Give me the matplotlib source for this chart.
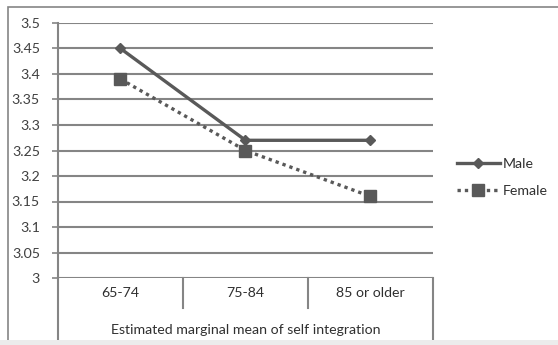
import numpy as np
import matplotlib
matplotlib.use('agg')
import matplotlib.pyplot as plt
from matplotlib.patches import Rectangle
import matplotlib.transforms as mtransforms

# DATA
categories = ['65-74', '75-84', '85 or older']
male = [3.45, 3.27, 3.27]
female = [3.39, 3.25, 3.16]
yticks = [3.0, 3.05, 3.1, 3.15, 3.2, 3.25, 3.3, 3.35, 3.4, 3.45, 3.5]
ytick_labels = ['3', '3.05', '3.1', '3.15', '3.2', '3.25', '3.3', '3.35', '3.4', '3.45', '3.5']
xlabel = 'Estimated marginal mean of self integration'

plt.rcParams['font.family'] = ['Lato', 'DejaVu Sans']
fontsize = 10.2
gridcol = '#858585'
linecol = '#595959'

W, H = 558, 345
fig = plt.figure(figsize=(W / 100, H / 100), dpi=100)
fig.patch.set_facecolor('white')

# outer chart border and bottom strip
fig.patches.append(Rectangle((8 / W, -0.1), 1.2, 1 - 7 / H + 0.1, transform=fig.transFigure,
                             fill=False, edgecolor=gridcol, lw=1.2))
fig.patches.append(Rectangle((0, 0), 1, 5 / H, transform=fig.transFigure,
                             facecolor='#ececec', edgecolor='none', zorder=5))

ax = fig.add_axes([58 / W, 1 - 278 / H, (433 - 58) / W, (278 - 23) / H])
x = np.arange(len(categories)) + 0.5

ax.set_xlim(0, len(categories))
ax.set_ylim(3.0, 3.5)
ax.set_yticks(yticks)
ax.set_yticklabels(ytick_labels, fontsize=fontsize, color='#404040')
ax.set_xticks([])
ax.tick_params(axis='y', length=4, width=1.2, color=gridcol, pad=9)
for s in ['top', 'right', 'bottom']:
    ax.spines[s].set_visible(False)
ax.spines['left'].set_color(gridcol)
ax.spines['left'].set_linewidth(1.5)
ax.spines['left'].set_bounds(3.0, 3.5)

for yv in yticks:
    ax.axhline(yv, color=gridcol, lw=1.5, zorder=1)

ax.plot(x, male, color=linecol, lw=2.4, marker='D', markersize=5, label='Male', zorder=3)
ax.plot(x, female, color=linecol, lw=2.4, ls=(0, (1, 1.2)), marker='s', markersize=8,
        label='Female', zorder=3)

# category box below axis
trans = mtransforms.blended_transform_factory(ax.transData, ax.transAxes)
ph = 278 - 23
for xv in [1, 2]:
    ax.plot([xv, xv], [0, -30 / ph], color=gridcol, lw=1.5, transform=trans, clip_on=False)
for xv in [0, 3]:
    ax.plot([xv, xv], [0, -61 / ph], color=gridcol, lw=1.5, transform=trans, clip_on=False)

for xi, c in zip(x, categories):
    ax.text(xi, -15 / ph, c, transform=trans, ha='center', va='center',
            fontsize=fontsize, color='#303030')
ax.text(1.5, -52 / ph, xlabel, transform=trans, ha='center', va='center',
        fontsize=fontsize, color='#303030')

leg = ax.legend(loc='center left', bbox_to_anchor=(457 / W, 1 - 177.5 / H),
                bbox_transform=fig.transFigure, frameon=False, fontsize=fontsize,
                handlelength=3.0, handletextpad=0.2, labelspacing=1.0,
                borderpad=0, borderaxespad=0, numpoints=1)
for t in leg.get_texts():
    t.set_color('#303030')

plt.savefig('out.png', dpi=100)
